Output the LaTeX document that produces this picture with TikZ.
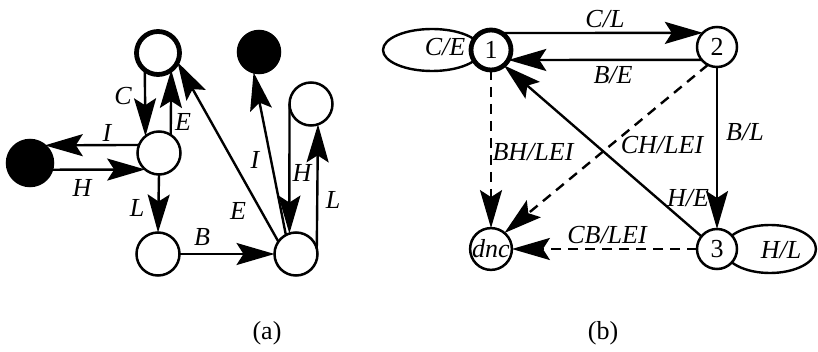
\documentclass[tikz,border=0pt]{standalone}
\usepackage{fontspec}
\setmainfont{Liberation Serif}
\usetikzlibrary{arrows.meta}
\pgfdeclarelayer{behind}
\pgfsetlayers{behind,main}
\begin{document}
\begin{tikzpicture}[x=1pt,y=-1pt,
  state/.style={circle,draw,line width=2.5pt,minimum size=43pt,inner sep=0pt,outer sep=0pt,fill=white},
  start/.style={state,line width=4.8pt},
  sink/.style={state,fill=black,minimum size=46pt},
  bstate/.style={state,minimum size=40pt,font=\fontsize{26}{30}\selectfont},
  bstart/.style={bstate,line width=4.8pt},
  lab/.style={font=\fontsize{26}{30}\selectfont\itshape,inner sep=0pt},
  captext/.style={font=\fontsize{26}{30}\selectfont,inner sep=0pt},
  arr/.style={line width=2.4pt,-{Stealth[length=38pt,width=22pt,inset=7pt]}},
  loopline/.style={line width=2.4pt},
  dashline/.style={dash pattern=on 10pt off 7pt}]
\useasboundingbox (0,0) rectangle (818,352);

% ---- (a) ----
\node[start] (T)  at (158,53)  {};
\node[state] (M)  at (159,153) {};
\node[sink]  (K1) at (30,163)  {};
\node[state] (BL) at (158,254) {};
\node[state] (BR) at (296,254) {};
\node[sink,minimum size=42pt] (K2) at (259,52) {};
\node[state] (RT) at (311,104) {};

\draw[arr] (T.-128) -- (M.129.5);
\draw[arr] (M.57) -- (T.-52);
\draw[arr] (M.158.7) -- (K1.50);
\draw[arr] (K1.-17) -- (M.230.6);
\draw[arr] (M.south) -- (BL.north);
\draw[arr] (BL.east) -- (BR.west);
\draw[arr] (BR.145) -- (T.-25);
\draw[arr] (BR.118) -- (K2.-105);
\draw[arr] (RT.west) -- (BR.108.6);
\draw[arr] (BR.15) -- (RT.-71.4);

\node[lab] at (123,96)  {C};
\node[lab] at (183,122) {E};
\node[lab] at (107,133) {I};
\node[lab] at (82,188)  {H};
\node[lab] at (137,208) {L};
\node[lab] at (202,237) {B};
\node[lab] at (238,211) {E};
\node[lab] at (255,160) {I};
\node[lab] at (302,173) {H};
\node[lab] at (333,200) {L};

\node[captext] at (267,333) {(a)};

% ---- (b) ----
\node[bstart] (N1) at (491,50)  {1};
\node[bstate] (N2) at (717,47)  {2};
\node[bstate] (N3) at (717,249) {3};
\node[bstate,font=\fontsize{26}{30}\selectfont\itshape] (Nd) at (491,249) {dnc};

% self-loops, partly hidden behind their states
\begin{pgfonlayer}{behind}
  \draw[loopline] ([xshift=-59pt]N1.center) ellipse [x radius=49pt, y radius=21pt];
  \draw[loopline] ([xshift=53pt]N3.center) ellipse [x radius=46pt, y radius=24pt];
\end{pgfonlayer}

\draw[arr] (N1.58) -- (N2.135.6);
\draw[arr] (N2.220.5) -- (N1.-30);
\draw[arr] (N2.south) -- (N3.north);
\draw[arr] (N3.141) -- (N1.-50);
\draw[arr,dashline] (N1.south) -- (Nd.north);
\draw[arr,dashline] (N2.-117) -- (Nd.50);
\draw[arr,dashline] (N3.west) -- (Nd.east);

\node[lab] at (445,47)  {C/E};
\node[lab] at (781,250) {H/L};
\node[lab] at (605,19)  {C/L};
\node[lab] at (613,75)  {B/E};
\node[lab] at (745,132) {B/L};
\node[lab] at (688,198) {H/E};
\node[lab] at (533,152) {BH/LEI};
\node[lab] at (662,145) {CH/LEI};
\node[lab] at (607,235) {CB/LEI};

\node[captext] at (603,333) {(b)};
\end{tikzpicture}
\end{document}
